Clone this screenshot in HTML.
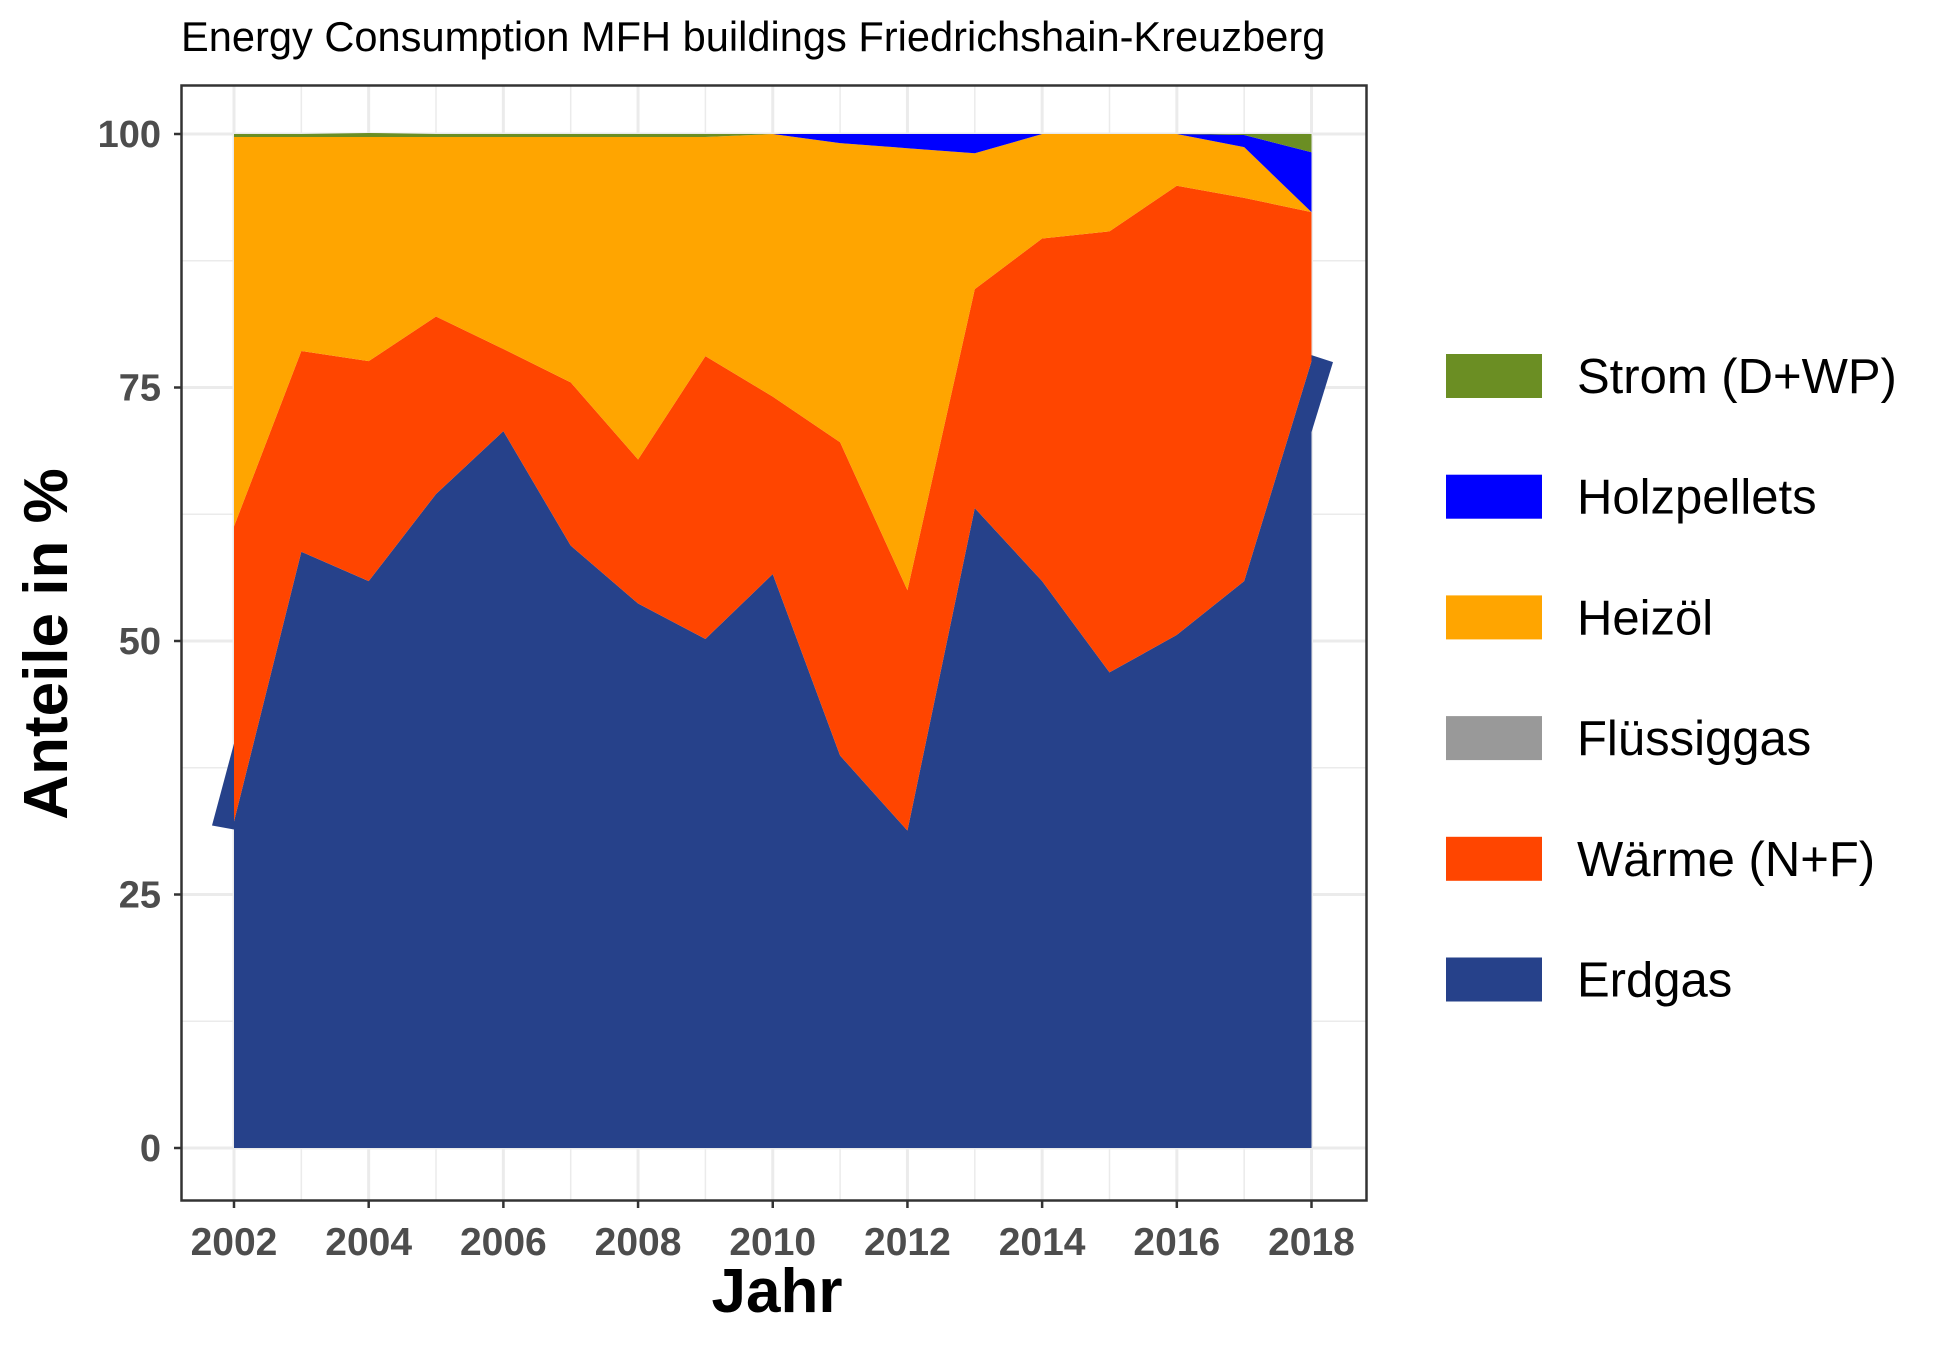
<!DOCTYPE html>
<html><head><meta charset="utf-8"><style>
html,body{margin:0;padding:0;background:#fff}
svg{display:block}
text{font-family:"Liberation Sans",sans-serif}
</style></head><body>
<svg id="chart" width="1950" height="1349" viewBox="0 0 1950 1349" xmlns="http://www.w3.org/2000/svg">
<text x="181" y="51" font-size="41.6" fill="#000">Energy Consumption MFH buildings Friedrichshain-Kreuzberg</text>
<g id="grid"></g>
<g id="areas"></g>
<rect x="181.5" y="85.5" width="1185" height="1115" fill="none" stroke="#333" stroke-width="2.5"/>
<g id="axes"></g>
<text x="777" y="1312" font-size="62" font-weight="bold" text-anchor="middle">Jahr</text>
<text transform="translate(67,644) rotate(-90)" font-size="62" font-weight="bold" text-anchor="middle">Anteile in %</text>
<g id="legend"></g>
</svg>
<script>
const years = [2002,2003,2004,2005,2006,2007,2008,2009,2010,2011,2012,2013,2014,2015,2016,2017,2018];
const erdgas = [32.2,58.8,55.9,64.5,70.7,59.4,53.7,50.2,56.6,38.7,31.3,63.1,55.9,46.9,50.6,55.9,77.6];
const waerme = [29.1,19.8,21.7,17.5,8.1,16.1,14.2,27.9,17.5,30.9,23.7,21.6,33.8,43.5,44.3,37.8,14.7];
const fluessiggas = [0,0,0,0,0,0,0,0,0,0,0,0,0,0,0,0,0];
const heizoel = [38.4,21.1,22.1,17.7,20.9,24.2,31.8,21.6,25.9,29.5,43.6,13.4,10.3,9.6,5.1,5.0,0];
const holzpellets = [0,0,0,0,0,0,0,0,0,0.9,1.4,1.9,0,0,0,1.2,5.9];
const strom = [0.3,0.3,0.4,0.3,0.3,0.3,0.3,0.3,0,0,0,0,0,0,0,0.1,1.8];
const seriesNames = ["Erdgas","Wärme (N+F)","Flüssiggas","Heizöl","Holzpellets","Strom (D+WP)"];
const seriesKeys = ["erdgas","waerme","fluessiggas","heizoel","holzpellets","strom"];
const seriesColors = ["#26418a","#ff4500","#999999","#ffa500","#0000ff","#6b8e23"];
const yTicks = [0,25,50,75,100];
const xTicks = [2002,2004,2006,2008,2010,2012,2014,2016,2018];

const NS="http://www.w3.org/2000/svg";
function X(v){return 234 + (v-2002)*(1311.5-234)/16;}
function Y(v){return 1148 - v*10.14;}
function mk(tag,attrs,parent){const e=document.createElementNS(NS,tag);for(const k in attrs)e.setAttribute(k,attrs[k]);parent.appendChild(e);return e;}

const grid=document.getElementById('grid');
for(let v=0; v<=100; v+=12.5){
  const l=mk('line',{x1:182,x2:1366,y1:Y(v),y2:Y(v),stroke:'#ebebeb','stroke-width':(v%25===0)?3:1.5},grid);
  
  
}
for(let yr=2001; yr<=2019; yr++){
  if(X(yr)<182||X(yr)>1366) continue;
  const l=mk('line',{x1:X(yr),x2:X(yr),y1:86,y2:1200,stroke:'#ebebeb','stroke-width':(yr%2===0)?3:1.5},grid);
  
  
}

const data=[erdgas,waerme,fluessiggas,heizoel,holzpellets,strom];
const areas=document.getElementById('areas');
let base=years.map(()=>0);
data.forEach((s,i)=>{
  const top=base.map((b,j)=>b+s[j]);
  let d='M'+years.map((yr,j)=>X(yr)+','+Y(top[j])).join(' L');
  d+=' L'+years.slice().reverse().map((yr,k)=>{const j=years.length-1-k;return X(yr)+','+Y(base[j]);}).join(' L')+' Z';
  const p=mk('path',{d:d,fill:seriesColors[i]},areas);
  
  
  base=top;
});
const n=years.length-1;
const a1=mk('path',{d:`M${X(2002)},${Y(erdgas[0])+8} L212,${Y(erdgas[0])+4} L${X(2002)},${Y(erdgas[0])-78} Z`,fill:seriesColors[0]},areas);


const a2=mk('path',{d:`M${X(2018)},${Y(erdgas[n])-6} L1333,${Y(erdgas[n])+1} L${X(2018)},${Y(erdgas[n])+71} Z`,fill:seriesColors[0]},areas);



const axes=document.getElementById('axes');
yTicks.forEach(v=>{
  const t=mk('line',{x1:174,x2:181,y1:Y(v),y2:Y(v),stroke:'#333','stroke-width':2.5},axes);
  
  
  const tx=mk('text',{x:161,y:Y(v)+13,'font-size':38,'font-weight':'bold',fill:'#4d4d4d','text-anchor':'end'},axes);
  tx.textContent=v;
  
  
});
xTicks.forEach(v=>{
  const t=mk('line',{x1:X(v),x2:X(v),y1:1201,y2:1208,stroke:'#333','stroke-width':2.5},axes);
  
  
  const tx=mk('text',{x:X(v),y:1255,'font-size':39,'font-weight':'bold',fill:'#4d4d4d','text-anchor':'middle'},axes);
  tx.textContent=v;
  
  
});

const legend=document.getElementById('legend');
const legendOrder=[5,4,3,2,1,0];
legendOrder.forEach((si,k)=>{
  const cy=376+k*120.7;
  const r=mk('rect',{x:1454,y:cy-22,width:96,height:44,fill:seriesColors[si]},legend);
  r.setAttribute('x',1446);
  
  
  const t=mk('text',{x:1577,y:cy+17,'font-size':49,fill:'#000'},legend);
  t.textContent=seriesNames[si];
  
  
});
</script>
</body></html>
